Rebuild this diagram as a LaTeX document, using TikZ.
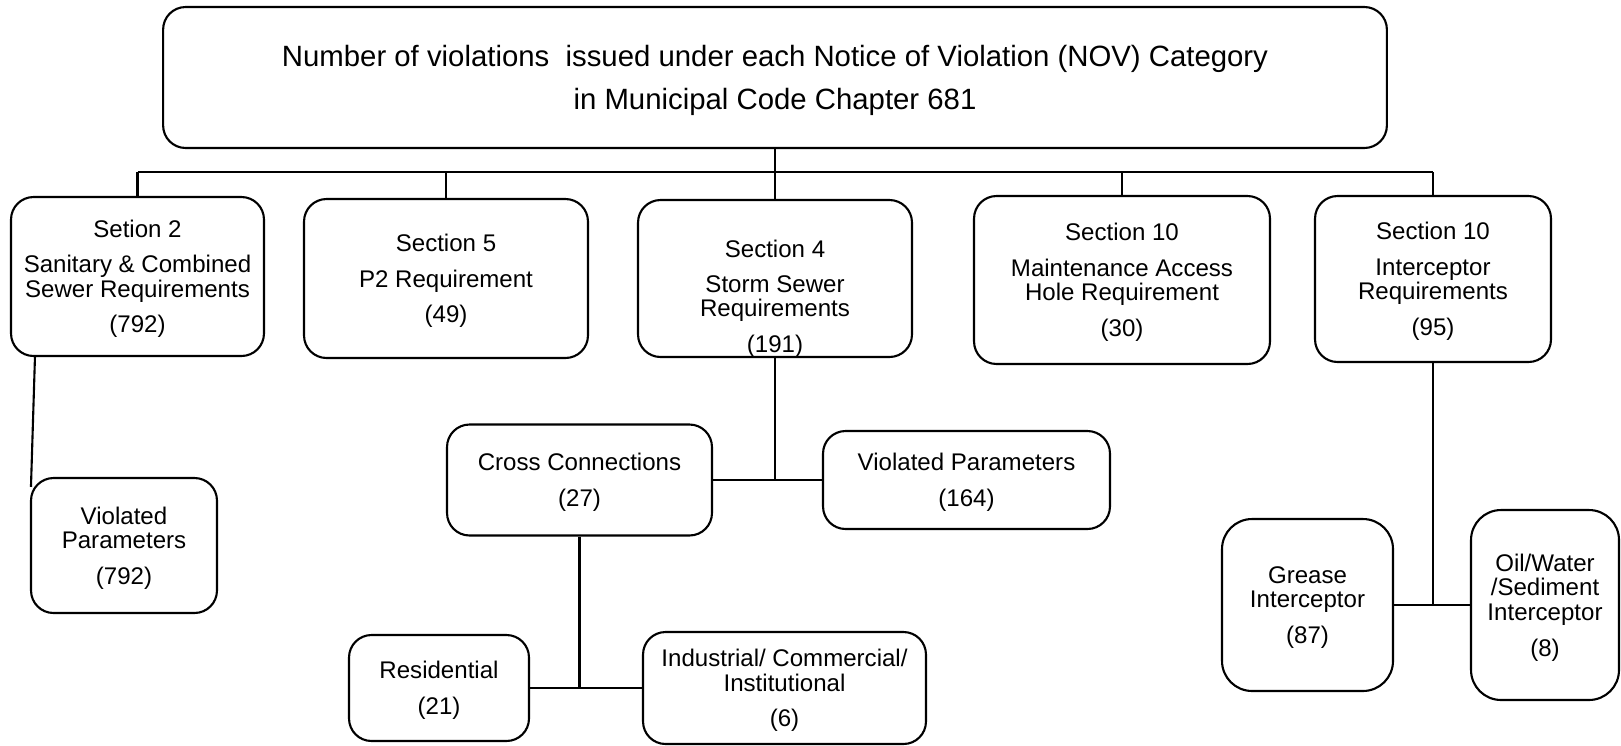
\documentclass[tikz,border=0pt]{standalone}
\usepackage{fontspec}
\setmainfont{Liberation Sans}
\usepackage{tikz}
\usetikzlibrary{shapes,arrows,positioning,calc}

\begin{document}
\begin{tikzpicture}[x=0.02cm, y=-0.02cm,
    box/.style={draw, line width=1.2pt, rounded corners=0.45cm, align=center, inner sep=0pt,
        text depth=0pt, font=\fontsize{13.7}{13.95}\selectfont},
    tallbox/.style={box, rounded corners=0.6cm},
    conn/.style={line width=1.2pt}]
    \useasboundingbox (0,0) rectangle (1621,745);

    % Top category
    \node[box, minimum width=24.48cm, minimum height=2.82cm, font=\fontsize{16.7}{24.5}\selectfont]
        (title) at (775,77.5) {Number of violations\ \ issued under each Notice of Violation (NOV) Category\\in Municipal Code Chapter 681};

    % Sections
    \node[box, minimum width=5.06cm, minimum height=3.18cm] (sec2) at (137.5,276.5)
        {Setion 2\\[0.22cm]Sanitary \& Combined\\Sewer Requirements\\[0.22cm](792)};
    \node[box, minimum width=5.68cm, minimum height=3.18cm] (sec5) at (446,278.5)
        {Section 5\\[0.22cm]P2 Requirement\\[0.22cm](49)};
    \node[box, minimum width=5.48cm, minimum height=3.14cm] (sec4) at (775,278.5) {};
    \node[align=center, inner sep=0pt, text depth=0pt, font=\fontsize{13.7}{13.95}\selectfont]
        (sec4txt) at ([yshift=-0.36cm]sec4.center)
        {Section 4\\[0.2cm]Storm Sewer\\Requirements\\[0.22cm](191)};
    \node[box, minimum width=5.92cm, minimum height=3.36cm] (maint) at (1122,280)
        {Section 10\\[0.22cm]Maintenance Access\\Hole Requirement\\[0.22cm](30)};
    \node[box, minimum width=4.72cm, minimum height=3.32cm] (inter) at (1433,279)
        {Section 10\\[0.22cm]Interceptor\\Requirements\\[0.22cm](95)};

    % Sub categories
    \node[box, minimum width=3.72cm, minimum height=2.7cm] (vp1) at (124,545.5)
        {Violated\\Parameters\\[0.22cm](792)};
    \node[box, minimum width=5.3cm, minimum height=2.22cm] (cross) at (579.5,480)
        {Cross Connections\\[0.22cm](27)};
    \node[box, minimum width=5.74cm, minimum height=1.96cm] (vp2) at (966.5,480)
        {Violated Parameters\\[0.22cm](164)};
    \node[box, minimum width=3.6cm, minimum height=2.12cm] (resid) at (439,688)
        {Residential\\[0.22cm](21)};
    \node[box, minimum width=5.66cm, minimum height=2.24cm] (indus) at (784.5,688)
        {Industrial/ Commercial/\\Institutional\\[0.22cm](6)};
    \node[tallbox, minimum width=3.42cm, minimum height=3.44cm] (grease) at (1307.5,605)
        {Grease\\Interceptor\\[0.22cm](87)};
    \node[tallbox, minimum width=2.96cm, minimum height=3.8cm] (oil) at (1545,605)
        {Oil/Water\\/Sediment\\Interceptor\\[0.22cm](8)};

    % Bus under the title
    \coordinate (bus) at (775,172);
    \draw[conn] (title.south) -- (bus);
    \draw[conn] (sec2.north |- bus) -- (inter.north |- bus);
    \foreach \n in {sec2,sec5,sec4,maint,inter}
        \draw[conn] (\n.north) -- (\n.north |- bus);

    % Branches
    \draw[conn] ([xshift=0.5cm]sec2.south west) -- ([shift={(0.02cm,-0.2cm)}]vp1.north west);
    \draw[conn] (sec4.south) -- (sec4.south |- cross.east);
    \draw[conn] (cross.east) -- (vp2.west);
    \draw[conn] (cross.south) -- (cross.south |- resid.east);
    \draw[conn] (resid.east) -- (indus.west);
    \draw[conn] (inter.south) -- (inter.south |- grease.east);
    \draw[conn] (grease.east) -- (oil.west);
\end{tikzpicture}
\end{document}
